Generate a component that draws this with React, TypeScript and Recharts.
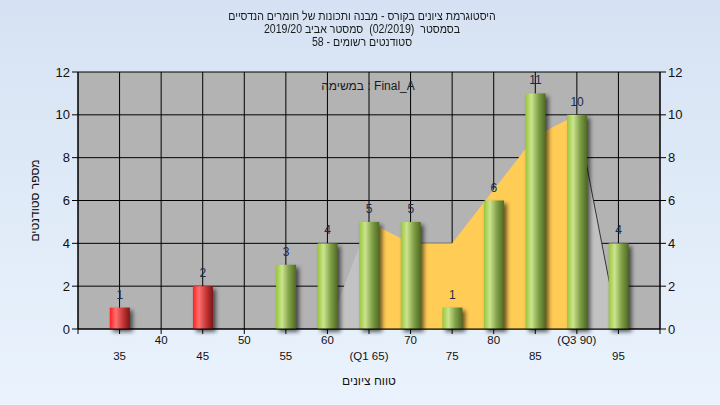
import {
  Area,
  Bar,
  CartesianGrid,
  ComposedChart,
  LabelList,
  XAxis,
  YAxis,
} from 'recharts';

const scores = [35, 40, 45, 50, 55, 60, 65, 70, 75, 80, 85, 90, 95];
const counts = [1, 0, 2, 0, 3, 4, 5, 5, 1, 6, 11, 10, 4];
// distribution polygon drawn behind the bars
const curve = [null, null, null, null, null, 0, 5, 4, 4, 6.5, 9, 10, 0];
const xTicks = [30, 35, 40, 45, 50, 55, 60, 65, 70, 75, 80, 85, 90, 95, 100];
const yTicks = [0, 2, 4, 6, 8, 10, 12];
const q1 = 65;
const q3 = 90;
const passMark = 55;

const titleLines = [
  'היסטוגרמת ציונים בקורס - מבנה ותכונות של חומרים הנדסיים',
  'בסמסטר  (02/2019)  סמסטר אביב 2019/20',
  'סטודנטים רשומים - 58',
];
const taskLabel = 'Final_A : במשימה';

const data = scores.map((score, i) => ({
  score,
  count: counts[i],
  curve: curve[i],
}));

const FONT = '"Liberation Sans", Arial, sans-serif';

function ScoreTick(props: any) {
  const { x, y, payload } = props;
  const v = payload.value;
  if (v === 30 || v === 100) return null;
  const top = v % 10 === 0;
  let text = String(v);
  if (v === q1) text = `(Q1 ${v})`;
  if (v === q3) text = `(Q3 ${v})`;
  return (
    <text
      x={x}
      y={y + (top ? 8 : 24)}
      textAnchor="middle"
      fontSize={11.5}
      fill="#111"
      fontFamily={FONT}
    >
      {text}
    </text>
  );
}

function CylinderBar(props: any) {
  const { x, y, width, height, payload } = props;
  if (!height || height <= 0) return null;
  const fill = payload.score < passMark ? 'url(#redBar)' : 'url(#greenBar)';
  return (
    <g>
      <rect
        x={x + 3}
        y={y + 3}
        width={width}
        height={height}
        fill="#000"
        opacity={0.6}
        filter="url(#barShadow)"
      />
      <rect x={x} y={y} width={width} height={height} fill={fill} />
    </g>
  );
}

export default function App() {
  return (
    <div
      style={{
        position: 'absolute',
        left: 0,
        top: 0,
        width: 720,
        height: 405,
        background: 'linear-gradient(180deg, #d6e2f3 0%, #eaf3fd 100%)',
        fontFamily: FONT,
      }}
    >
      <div
        style={{
          position: 'absolute',
          top: 10,
          left: 0,
          width: 724,
          textAlign: 'center',
          fontSize: 12,
          lineHeight: '13px',
          color: '#1a1a1a',
          direction: 'rtl',
          whiteSpace: 'pre',
          transform: 'scaleX(0.88)',
        }}
      >
        {titleLines.map((t) => (
          <div key={t}>{t}</div>
        ))}
      </div>
      <ComposedChart
        width={720}
        height={405}
        data={data}
        margin={{ top: 72, right: 0, bottom: 26, left: 0 }}
      >
        <defs>
          <linearGradient id="greenBar" x1="0" y1="0" x2="1" y2="0">
            <stop offset="0%" stopColor="#98c63a" />
            <stop offset="30%" stopColor="#cce48e" />
            <stop offset="65%" stopColor="#80a047" />
            <stop offset="100%" stopColor="#4e6a22" />
          </linearGradient>
          <linearGradient id="redBar" x1="0" y1="0" x2="1" y2="0">
            <stop offset="0%" stopColor="#ff1e1e" />
            <stop offset="30%" stopColor="#ff7070" />
            <stop offset="65%" stopColor="#c83838" />
            <stop offset="100%" stopColor="#7e1414" />
          </linearGradient>
          <linearGradient id="areaFill" x1="0" y1="0" x2="1" y2="0">
            <stop offset="0%" stopColor="#c2c2c2" />
            <stop offset="14.3%" stopColor="#c2c2c2" />
            <stop offset="14.3%" stopColor="#ffcc55" />
            <stop offset="85.7%" stopColor="#ffcc55" />
            <stop offset="85.7%" stopColor="#c2c2c2" />
            <stop offset="100%" stopColor="#c2c2c2" />
          </linearGradient>
          <linearGradient id="areaStroke" x1="0" y1="0" x2="1" y2="0">
            <stop offset="0%" stopColor="#333" stopOpacity={0} />
            <stop offset="85.7%" stopColor="#333" stopOpacity={0} />
            <stop offset="85.7%" stopColor="#333" stopOpacity={1} />
            <stop offset="100%" stopColor="#333" stopOpacity={1} />
          </linearGradient>
          <filter id="barShadow" x="-50%" y="-20%" width="200%" height="140%">
            <feGaussianBlur stdDeviation="2" />
          </filter>
        </defs>
        <CartesianGrid
          yAxisId="left"
          stroke="#000"
          fill="#b3b3b3"
          strokeOpacity={1}
          fillOpacity={1}
        />
        <XAxis
          dataKey="score"
          type="number"
          domain={[30, 100]}
          ticks={xTicks}
          interval={0}
          tick={<ScoreTick />}
          tickSize={5}
          axisLine={{ stroke: '#000' }}
          tickLine={{ stroke: '#000' }}
          height={50}
          label={{
            value: 'טווח ציונים',
            position: 'insideBottom',
            offset: -6,
            fontSize: 12,
            fill: '#111',
            fontFamily: FONT,
          }}
        />
        <YAxis
          yAxisId="left"
          domain={[0, 12]}
          ticks={yTicks}
          interval={0}
          width={78}
          tickSize={6}
          axisLine={{ stroke: '#000' }}
          tickLine={{ stroke: '#000' }}
          tick={{ fontSize: 13, fill: '#111', fontFamily: FONT }}
          label={{
            value: 'מספר סטודנטים',
            angle: -90,
            position: 'insideLeft',
            offset: 35,
            fontSize: 12,
            fill: '#111',
            fontFamily: FONT,
            style: { textAnchor: 'middle' },
          }}
        />
        <YAxis
          yAxisId="right"
          orientation="right"
          domain={[0, 12]}
          ticks={yTicks}
          interval={0}
          width={60}
          tickSize={6}
          axisLine={{ stroke: '#000' }}
          tickLine={{ stroke: '#000' }}
          tick={{ fontSize: 13, fill: '#111', fontFamily: FONT }}
        />
        <Area
          yAxisId="right"
          type="linear"
          dataKey="curve"
          fill="url(#areaFill)"
          fillOpacity={1}
          stroke="url(#areaStroke)"
          strokeWidth={1}
          dot={false}
          activeDot={false}
          isAnimationActive={false}
        />
        <Bar
          yAxisId="left"
          dataKey="count"
          barSize={20}
          shape={<CylinderBar />}
          isAnimationActive={false}
        >
          <LabelList
            dataKey="count"
            position="top"
            offset={9}
            fontSize={12}
            fill="#1c2a4a"
            fontFamily={FONT}
            formatter={(v: any) => (v ? v : '')}
          />
        </Bar>
      </ComposedChart>
      <div
        style={{
          position: 'absolute',
          top: 79,
          left: 0,
          width: 736,
          textAlign: 'center',
          fontSize: 12,
          color: '#1a1a1a',
          direction: 'rtl',
        }}
      >
        {taskLabel}
      </div>
    </div>
  );
}
